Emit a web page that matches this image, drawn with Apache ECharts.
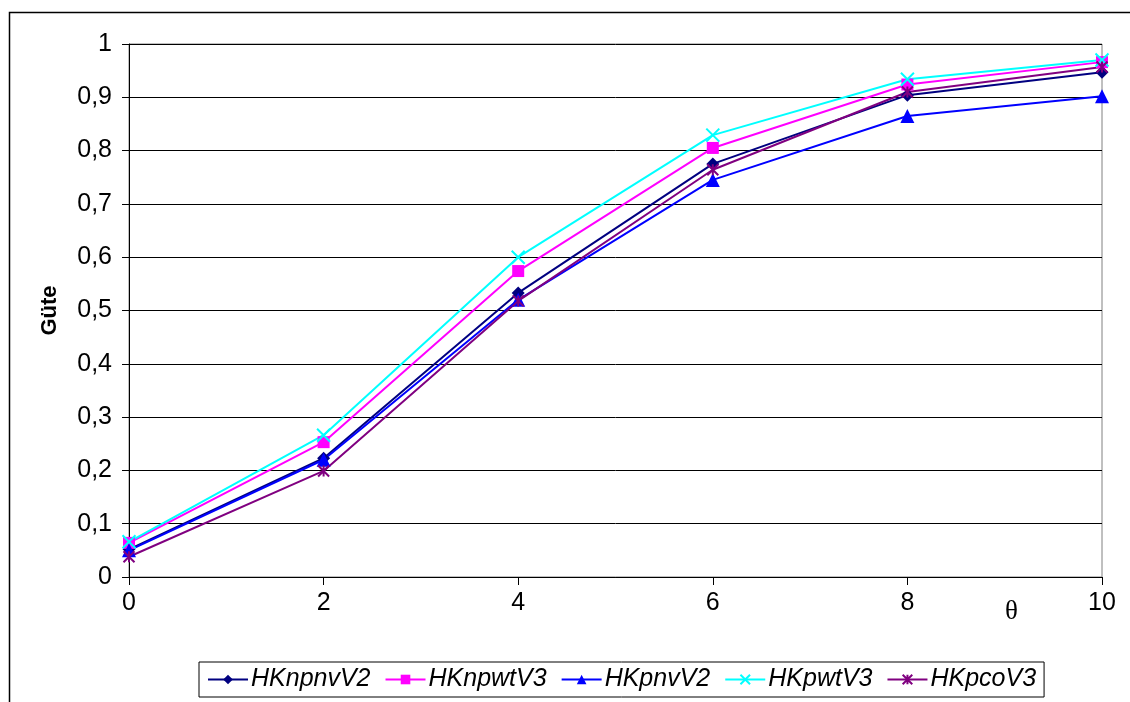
<!DOCTYPE html>
<html><head><meta charset="utf-8">
<script src="https://cdn.jsdelivr.net/npm/echarts@6/dist/echarts.min.js"></script>
<style>html,body{margin:0;padding:0;background:#fff}#c{width:1130px;height:702px}</style>
</head><body><div id="c"></div>
<script>
const thetaValues = [0, 2, 4, 6, 8, 10];
const seriesNames = ['HKnpnvV2', 'HKnpwtV3', 'HKpnvV2', 'HKpwtV3', 'HKpcoV3'];
const HKnpnvV2 = [0.052, 0.223, 0.533, 0.775, 0.904, 0.947];
const HKnpwtV3 = [0.064, 0.253, 0.574, 0.805, 0.924, 0.966];
const HKpnvV2  = [0.050, 0.220, 0.520, 0.745, 0.865, 0.902];
const HKpwtV3  = [0.066, 0.266, 0.600, 0.829, 0.934, 0.970];
const HKpcoV3  = [0.038, 0.199, 0.518, 0.764, 0.910, 0.957];
const yTicks = ['0','0,1','0,2','0,3','0,4','0,5','0,6','0,7','0,8','0,9','1'];

const valuesList = [HKnpnvV2, HKnpwtV3, HKpnvV2, HKpwtV3, HKpcoV3];
const colors = ['#000080', '#FF00FF', '#0000FF', '#00FFFF', '#800080'];
const symbols = ['diamond', 'rect', 'triangle', 'path://M0,0L10,10M10,0L0,10', 'path://M0,0L10,10M10,0L0,10M5,0L5,10'];
const sizes = [13, 12, 14, 13, 11];

const chart = echarts.init(document.getElementById('c'));
const series = seriesNames.map((n, i) => ({
  name: n,
  type: 'line',
  data: thetaValues.map((t, j) => [t, valuesList[i][j]]),
  symbol: symbols[i],
  symbolSize: sizes[i],
  showSymbol: true,
  lineStyle: { color: colors[i], width: 2 },
  itemStyle: { color: colors[i], borderColor: colors[i], borderWidth: i >= 3 ? 2 : 0 },
  emphasis: { disabled: true },
  animation: false
}));

chart.setOption({
  animation: false,
  grid: { left: 129, right: 28, top: 44, bottom: 125, show: true, borderColor: '#808080', borderWidth: 1 },
  xAxis: {
    type: 'value', min: 0, max: 10, interval: 2,
    axisLine: { lineStyle: { color: '#000', width: 1 } },
    axisTick: { show: true, inside: false, length: 8, lineStyle: { color: '#000' } },
    axisLabel: { color: '#000', fontSize: 25, fontFamily: 'Liberation Sans, Arial', margin: 14 },
    splitLine: { show: false }
  },
  yAxis: {
    type: 'value', min: 0, max: 1, interval: 0.1,
    name: 'Güte', nameLocation: 'middle', nameRotate: 90, nameGap: 68,
    nameTextStyle: { fontSize: 22, fontWeight: 'bold', fontFamily: 'Liberation Sans, Arial', color: '#000' },
    axisLine: { show: true, lineStyle: { color: '#000', width: 1 } },
    axisTick: { show: true, inside: false, length: 7, lineStyle: { color: '#000' } },
    axisLabel: { color: '#000', fontSize: 25, fontFamily: 'Liberation Sans, Arial', margin: 17,
      formatter: (v) => yTicks[Math.round(v * 10)] },
    splitLine: { show: true, lineStyle: { color: '#000', width: 1 } }
  },
  legend: {
    data: seriesNames,
    left: 199, top: 662,
    orient: 'horizontal',
    itemWidth: 40, itemHeight: 12, itemGap: 14,
    padding: [5, 8, 5, 8],
    borderColor: '#000', borderWidth: 1,
    textStyle: { fontSize: 25, fontStyle: 'italic', fontFamily: 'Liberation Sans, Arial', color: '#000', padding: [0, 0, 0, -2] }
  },
  graphic: [
    { type: 'rect', left: 7, top: 10, shape: { width: 1300, height: 900 }, style: { fill: 'none', stroke: '#000', lineWidth: 1.5 }, silent: true, z: -10 },
    { type: 'text', left: 1005, top: 598, style: { text: 'θ', font: '27px "Liberation Serif", serif', fill: '#000' } }
  ],
  series: series
});
</script></body></html>
